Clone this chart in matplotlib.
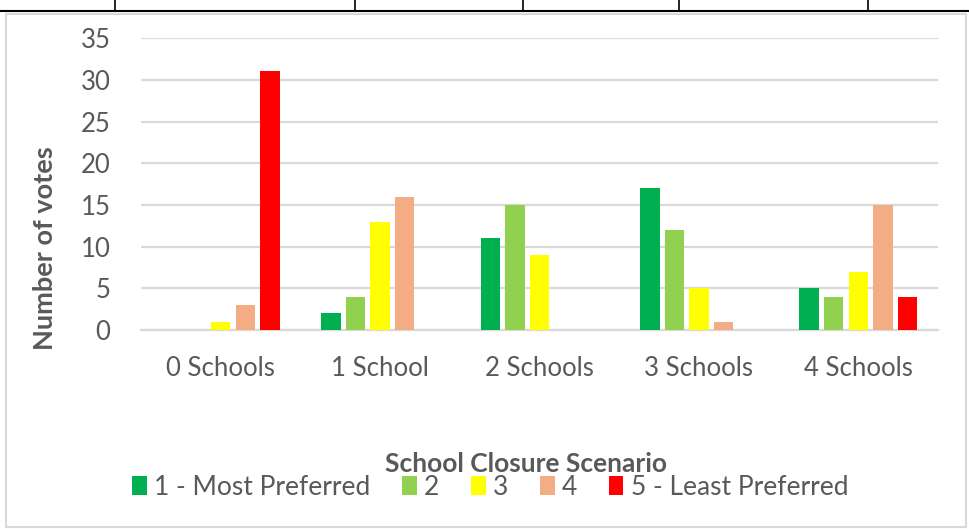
import numpy as np
import matplotlib.pyplot as plt
from matplotlib.patches import Patch, Rectangle
from matplotlib.lines import Line2D

plt.rcParams['font.family'] = ['Lato', 'DejaVu Sans']

categories = ['0 Schools', '1 School', '2 Schools', '3 Schools', '4 Schools']
series_names = ['1 - Most Preferred', '2', '3', '4', '5 - Least Preferred']
rank1 = [0, 2, 11, 17, 5]
rank2 = [0, 4, 15, 12, 4]
rank3 = [1, 13, 9, 5, 7]
rank4 = [3, 16, 0, 1, 15]
rank5 = [31, 0, 0, 0, 4]
colors = ['#00B050', '#92D050', '#FFFF00', '#F4AC84', '#FF0000']

series = [rank1, rank2, rank3, rank4, rank5]
txt = '#595959'
grid_c = '#D9D9D9'

fig = plt.figure(figsize=(9.69, 5.29), dpi=100)
ax = fig.add_axes([0.1455, 0.376, 0.8225, 0.552])

x = np.arange(len(categories))
pitch = 0.154
for i, vals in enumerate(series):
    ax.bar(x + (i - 2) * pitch, vals, width=0.122, color=colors[i],
           label=series_names[i], zorder=3)

ax.set_xlim(-0.5, 4.5)
ax.set_ylim(0, 35)
ax.set_yticks(range(0, 36, 5))
ax.set_xticks(x)
ax.set_xticklabels(categories)
ax.grid(axis='y', color=grid_c, linewidth=1.6, zorder=0)
for s in ['top', 'right', 'left']:
    ax.spines[s].set_visible(False)
ax.spines['bottom'].set_color(grid_c)
ax.spines['bottom'].set_linewidth(1.6)
ax.tick_params(axis='y', length=0, pad=22, labelsize=18.5, labelcolor=txt)
ax.tick_params(axis='x', length=0, pad=19, labelsize=18.5, labelcolor=txt)
ax.set_ylabel('Number of votes', fontsize=19.5, fontweight='bold', color=txt)
ax.yaxis.set_label_coords(-0.106, 0.28)

fig.text(0.543, 0.123, 'School Closure Scenario', ha='center', va='center',
         fontsize=19, fontweight='bold', color=txt)

handles = [Patch(facecolor=c, edgecolor='none') for c in colors]
leg = fig.legend(handles, series_names, loc='center', bbox_to_anchor=(0.506, 0.079),
                 ncol=5, frameon=False, fontsize=19, handlelength=0.55, handleheight=0.7,
                 handletextpad=0.28, columnspacing=1.2)
for t in leg.get_texts():
    t.set_color(txt)

# chart frame and surrounding document table lines
fig.add_artist(Rectangle((0.006, 0.004), 0.991, 0.97, transform=fig.transFigure,
                         fill=False, edgecolor='#D9D9D9', linewidth=1.5))
fig.add_artist(Line2D([0, 1], [0.98, 0.98], transform=fig.transFigure, color='black', linewidth=1.5))
for xv in [115, 355, 523, 679, 868]:
    fig.add_artist(Line2D([xv / 969, xv / 969], [0.98, 1.0], transform=fig.transFigure,
                          color='black', linewidth=1.2))

fig.savefig('out.png', dpi=100)
